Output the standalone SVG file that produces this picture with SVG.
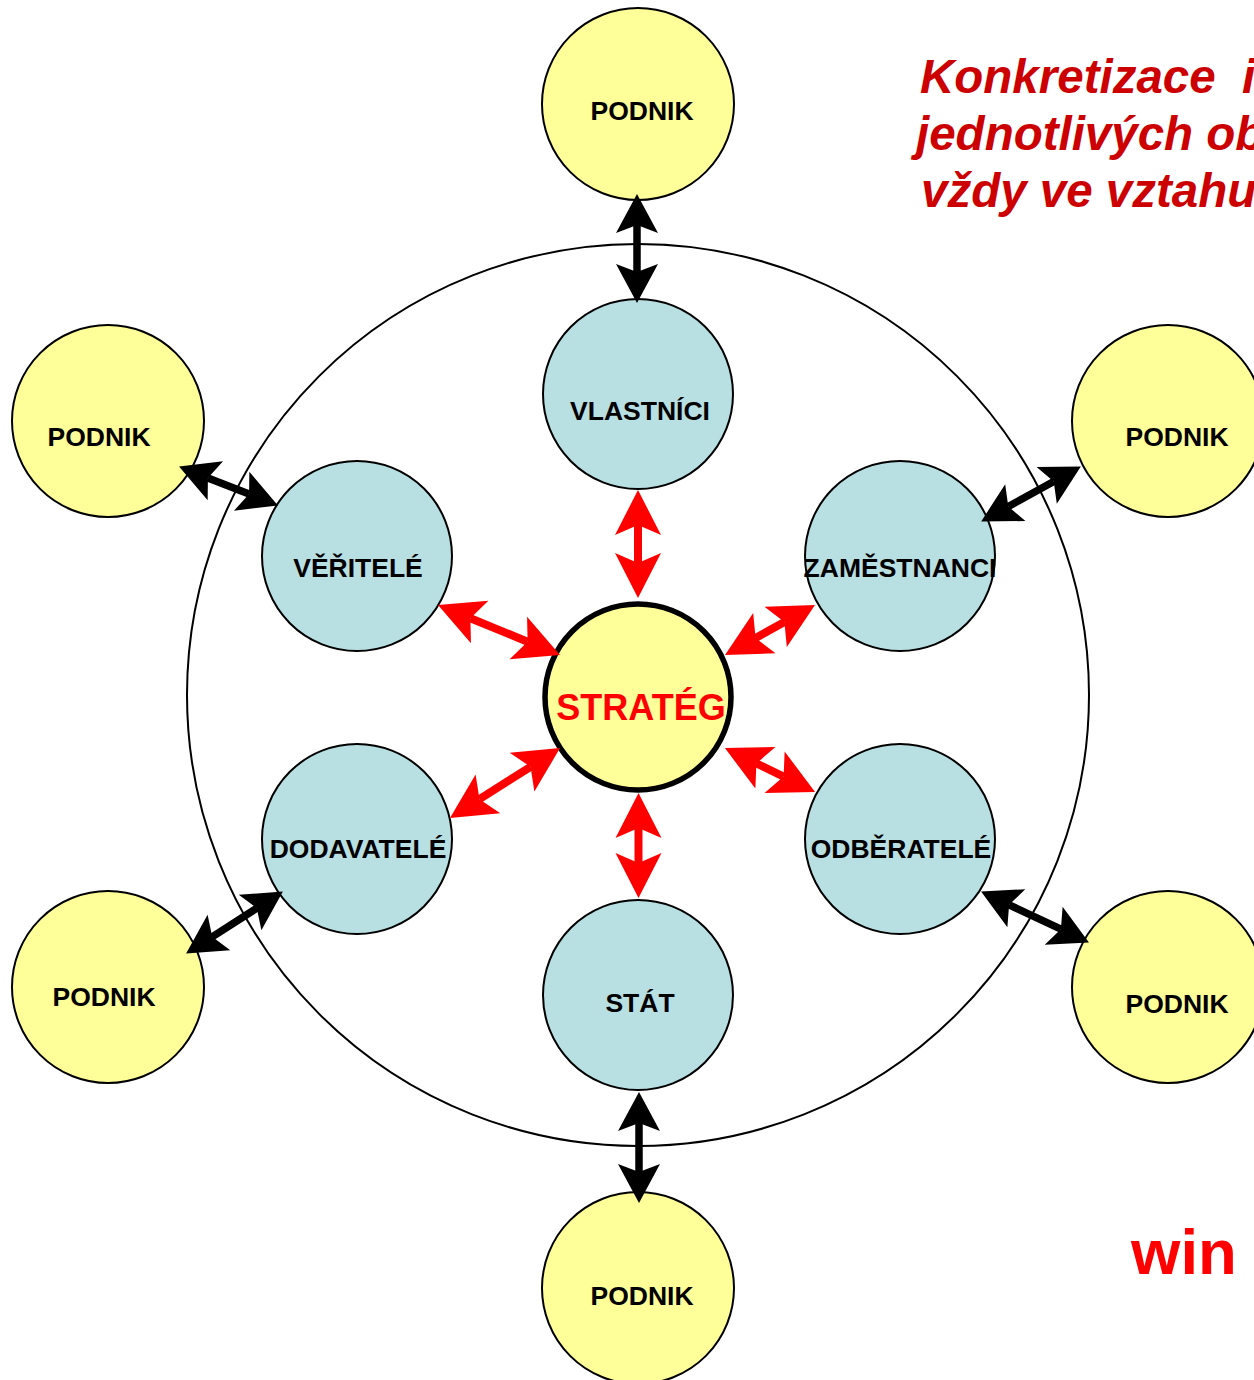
<svg xmlns="http://www.w3.org/2000/svg" width="1254" height="1380" viewBox="0 0 1254 1380">
  <style>
    .ring { fill: none; stroke: #000; stroke-width: 2; }
    .podnik { fill: #ffff99; stroke: #000; stroke-width: 2; }
    .group { fill: #b8dfe2; stroke: #000; stroke-width: 2; }
    .center { fill: #ffff99; stroke: #000; stroke-width: 5.5; }
    .lbl { font-family: "Liberation Sans", Arial, sans-serif; font-weight: bold; font-size: 26.5px; fill: #000; text-anchor: middle; }
    .core { font-family: "Liberation Sans", Arial, sans-serif; font-weight: bold; font-size: 36px; fill: #ff0000; text-anchor: middle; }
    .title { font-family: "Liberation Sans", Arial, sans-serif; font-weight: bold; font-style: italic; font-size: 47.5px; fill: #cc0000; white-space: pre; }
    .win { font-family: "Liberation Sans", Arial, sans-serif; font-weight: bold; font-size: 63.5px; fill: #ff0000; }
    .blk { stroke: #000; stroke-width: 7.5; fill: none; marker-start: url(#headK); marker-end: url(#headK); }
    .red { stroke: #ff0000; stroke-width: 8; fill: none; marker-start: url(#headR); marker-end: url(#headR); }
  </style>
  <defs>
    <!-- stealth heads; reference point sits in the notch so the shaft ends inside the head -->
    <marker id="headK" markerUnits="userSpaceOnUse" viewBox="0 -21 39 42" markerWidth="39" markerHeight="42" refX="8" refY="0" orient="auto-start-reverse" overflow="visible">
      <path d="M0,-21 L39,0 L0,21 L8,0 Z" fill="#000"/>
    </marker>
    <marker id="headR" markerUnits="userSpaceOnUse" viewBox="0 -23 45 46" markerWidth="45" markerHeight="46" refX="10" refY="0" orient="auto-start-reverse" overflow="visible">
      <path d="M0,-23 L45,0 L0,23 L10,0 Z" fill="#ff0000"/>
    </marker>
  </defs>

  <rect width="1254" height="1380" fill="#fff"/>

  <!-- outer boundary -->
  <circle class="ring" cx="638" cy="695" r="451"/>

  <!-- heading -->
  <g id="heading" xml:space="preserve">
    <text class="title" x="920" y="93">Konkretizace  i</text>
    <text class="title" x="916" y="150">jednotlivých ob</text>
    <text class="title" x="921" y="207">vždy ve vztahu</text>
  </g>
  <text id="win" class="win" x="1131" y="1274">win</text>

  <!-- inner stakeholders -->
  <g id="vlastnici"><circle class="group" cx="638" cy="394" r="95"/><text class="lbl" x="640" y="420">VLASTNÍCI</text></g>
  <g id="veritele"><circle class="group" cx="357" cy="556" r="95"/><text class="lbl" x="358" y="577">VĚŘITELÉ</text></g>
  <g id="zamestnanci"><circle class="group" cx="900" cy="556" r="95"/><text class="lbl" x="900" y="577">ZAMĚSTNANCI</text></g>
  <g id="dodavatele"><circle class="group" cx="357" cy="839" r="95"/><text class="lbl" x="358" y="858">DODAVATELÉ</text></g>
  <g id="odberatele"><circle class="group" cx="900" cy="839" r="95"/><text class="lbl" x="901" y="858">ODBĚRATELÉ</text></g>
  <g id="stat"><circle class="group" cx="638" cy="995" r="95"/><text class="lbl" x="640" y="1012">STÁT</text></g>

  <!-- centre -->
  <g id="strateg"><circle class="center" cx="638" cy="697" r="93"/><text class="core" x="641" y="720">STRATÉG</text></g>

  <!-- outer companies -->
  <g id="podnik-top"><circle class="podnik" cx="638" cy="104" r="96"/><text class="lbl" x="642" y="120">PODNIK</text></g>
  <g id="podnik-ul"><circle class="podnik" cx="108" cy="421" r="96"/><text class="lbl" x="99" y="446">PODNIK</text></g>
  <g id="podnik-ur"><circle class="podnik" cx="1168" cy="421" r="96"/><text class="lbl" x="1177" y="446">PODNIK</text></g>
  <g id="podnik-ll"><circle class="podnik" cx="108" cy="987" r="96"/><text class="lbl" x="104" y="1006">PODNIK</text></g>
  <g id="podnik-lr"><circle class="podnik" cx="1168" cy="987" r="96"/><text class="lbl" x="1177" y="1013">PODNIK</text></g>
  <g id="podnik-bottom"><circle class="podnik" cx="638" cy="1288" r="96"/><text class="lbl" x="642" y="1305">PODNIK</text></g>

  <!-- connectors -->
  <g id="connectors">
    <path class="blk" d="M637,225 L637,272"/>
    <path class="blk" d="M207.9,477.9 L249.1,494.1"/>
    <path class="blk" d="M1008.3,506.5 L1053.7,481.5"/>
    <path class="blk" d="M212.2,936.8 L256.8,908.2"/>
    <path class="blk" d="M1009.1,904.8 L1060.9,929.2"/>
    <path class="blk" d="M639,1123 L639,1172"/>

    <path class="red" d="M638,525 L638,563"/>
    <path class="red" d="M638.5,828 L638.5,863"/>
    <path class="red" d="M470.4,618.3 L527.6,641.7"/>
    <path class="red" d="M755.6,638 L784.4,622"/>
    <path class="red" d="M530.5,766.8 L479.5,799.2"/>
    <path class="red" d="M756.4,763.4 L783.6,776.6"/>
  </g>
</svg>
